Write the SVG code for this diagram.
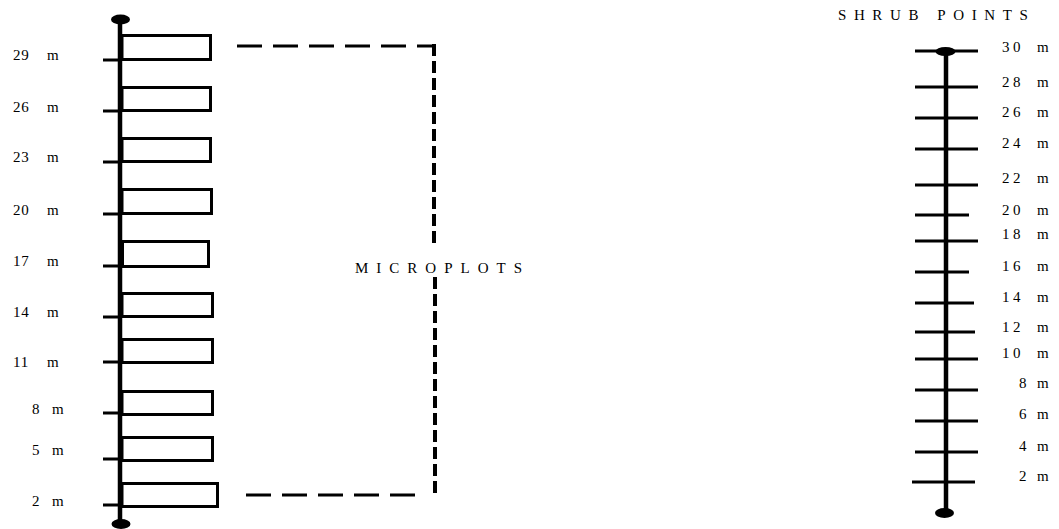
<svg xmlns="http://www.w3.org/2000/svg" width="1059" height="529" viewBox="0 0 1059 529">
<style>
.axis{stroke:#000;stroke-width:4.5;fill:none}
.tick{stroke:#000;stroke-width:3;fill:none}
.plot{stroke:#000;stroke-width:3;fill:#fff}
.dash{stroke:#000;fill:none}
text{font-family:"Liberation Serif","Times New Roman",serif;font-size:15px;fill:#000}
.ll{letter-spacing:0.8px}
.rl{letter-spacing:3.5px}
.title{font-size:15px;letter-spacing:8px}
</style>
<rect width="1059" height="529" fill="#fff"/>
<g id="connectors">
<path class="dash" stroke-width="3" stroke-dasharray="25 11" d="M237 46 H433"/>
<path class="dash" stroke-width="4" stroke-dasharray="12 5" d="M434 44 V245"/>
<path class="dash" stroke-width="4" stroke-dasharray="12 5" d="M435 277 V495"/>
<path class="dash" stroke-width="3" stroke-dasharray="25 11" d="M246 495 H415"/>
</g>
<g id="microplot-transect">
<g id="left-ticks">
<line class="tick" x1="103" y1="60" x2="120" y2="60"/>
<line class="tick" x1="103" y1="111" x2="120" y2="111"/>
<line class="tick" x1="103" y1="162" x2="120" y2="162"/>
<line class="tick" x1="103" y1="214" x2="120" y2="214"/>
<line class="tick" x1="103" y1="266" x2="120" y2="266"/>
<line class="tick" x1="103" y1="317" x2="120" y2="317"/>
<line class="tick" x1="103" y1="362" x2="120" y2="362"/>
<line class="tick" x1="103" y1="413" x2="120" y2="413"/>
<line class="tick" x1="103" y1="459" x2="120" y2="459"/>
<line class="tick" x1="103" y1="505" x2="120" y2="505"/>
</g>
<g id="plot-29"><rect class="plot" x="122" y="35.5" width="88.5" height="24"/></g>
<g id="plot-26"><rect class="plot" x="122" y="87.5" width="88.5" height="23"/></g>
<g id="plot-23"><rect class="plot" x="122" y="138.5" width="88.5" height="23"/></g>
<g id="plot-20"><rect class="plot" x="122" y="189.5" width="89.5" height="24"/></g>
<g id="plot-17"><rect class="plot" x="122.5" y="241.5" width="86" height="25"/></g>
<g id="plot-14"><rect class="plot" x="122" y="293.5" width="90.5" height="23"/></g>
<g id="plot-11"><rect class="plot" x="122" y="339.5" width="90.5" height="23"/></g>
<g id="plot-8"><rect class="plot" x="122" y="391.5" width="90.5" height="23"/></g>
<g id="plot-5"><rect class="plot" x="122" y="437.5" width="90.5" height="23"/></g>
<g id="plot-2"><rect class="plot" x="122" y="483.5" width="95.5" height="23"/></g>
<line class="axis" x1="120" y1="19" x2="120" y2="523"/>
<ellipse cx="120.5" cy="19.5" rx="9.5" ry="5"/>
<ellipse cx="121" cy="524" rx="9.5" ry="5"/>
<g id="left-labels">
<text y="60"><tspan class="ll" x="13">29</tspan> <tspan x="47">m</tspan></text>
<text y="112"><tspan class="ll" x="13">26</tspan> <tspan x="47">m</tspan></text>
<text y="162"><tspan class="ll" x="13">23</tspan> <tspan x="47">m</tspan></text>
<text y="215"><tspan class="ll" x="13">20</tspan> <tspan x="47">m</tspan></text>
<text y="266"><tspan class="ll" x="13">17</tspan> <tspan x="47">m</tspan></text>
<text y="317"><tspan class="ll" x="13">14</tspan> <tspan x="47">m</tspan></text>
<text y="367"><tspan class="ll" x="13">11</tspan> <tspan x="47">m</tspan></text>
<text y="414"><tspan x="32">8</tspan> <tspan x="52">m</tspan></text>
<text y="455"><tspan x="32">5</tspan> <tspan x="52">m</tspan></text>
<text y="506"><tspan x="32">2</tspan> <tspan x="52">m</tspan></text>
</g>
</g>
<g id="microplots-label"><text class="title" x="355" y="273">MICROPLOTS</text></g>
<g id="shrub-transect">
<text class="title" x="838" y="20" style="letter-spacing:7.6px">SHRUB POINTS</text>
<g id="right-ticks">
<line class="tick" x1="915" y1="51" x2="978" y2="51"/>
<line class="tick" x1="915" y1="87" x2="978" y2="87"/>
<line class="tick" x1="915" y1="118" x2="978" y2="118"/>
<line class="tick" x1="915" y1="149" x2="978" y2="149"/>
<line class="tick" x1="915" y1="185" x2="978" y2="185"/>
<line class="tick" x1="915" y1="215" x2="969" y2="215"/>
<line class="tick" x1="915" y1="241" x2="978" y2="241"/>
<line class="tick" x1="915" y1="272" x2="969" y2="272"/>
<line class="tick" x1="915" y1="303" x2="974" y2="303"/>
<line class="tick" x1="915" y1="332" x2="975" y2="332"/>
<line class="tick" x1="915" y1="359" x2="978" y2="359"/>
<line class="tick" x1="915" y1="390" x2="978" y2="390"/>
<line class="tick" x1="915" y1="421" x2="978" y2="421"/>
<line class="tick" x1="915" y1="452" x2="978" y2="452"/>
<line class="tick" x1="912" y1="482" x2="975" y2="482"/>
</g>
<line class="axis" x1="946" y1="51" x2="946" y2="513"/>
<ellipse cx="945.5" cy="51.5" rx="10" ry="4.5"/>
<ellipse cx="944.5" cy="513" rx="9.5" ry="5"/>
<g id="right-labels">
<text y="52"><tspan class="rl" x="1002">30</tspan> <tspan x="1037">m</tspan></text>
<text y="87"><tspan class="rl" x="1002">28</tspan> <tspan x="1037">m</tspan></text>
<text y="117"><tspan class="rl" x="1002">26</tspan> <tspan x="1037">m</tspan></text>
<text y="148"><tspan class="rl" x="1002">24</tspan> <tspan x="1037">m</tspan></text>
<text y="183"><tspan class="rl" x="1002">22</tspan> <tspan x="1037">m</tspan></text>
<text y="215"><tspan class="rl" x="1002">20</tspan> <tspan x="1037">m</tspan></text>
<text y="239"><tspan class="rl" x="1002">18</tspan> <tspan x="1037">m</tspan></text>
<text y="271"><tspan class="rl" x="1002">16</tspan> <tspan x="1037">m</tspan></text>
<text y="302"><tspan class="rl" x="1002">14</tspan> <tspan x="1037">m</tspan></text>
<text y="332"><tspan class="rl" x="1002">12</tspan> <tspan x="1037">m</tspan></text>
<text y="358"><tspan class="rl" x="1002">10</tspan> <tspan x="1037">m</tspan></text>
<text y="388"><tspan x="1019">8</tspan> <tspan x="1037">m</tspan></text>
<text y="419"><tspan x="1019">6</tspan> <tspan x="1037">m</tspan></text>
<text y="451"><tspan x="1019">4</tspan> <tspan x="1037">m</tspan></text>
<text y="481"><tspan x="1019">2</tspan> <tspan x="1037">m</tspan></text>
</g>
</g>
</svg>
